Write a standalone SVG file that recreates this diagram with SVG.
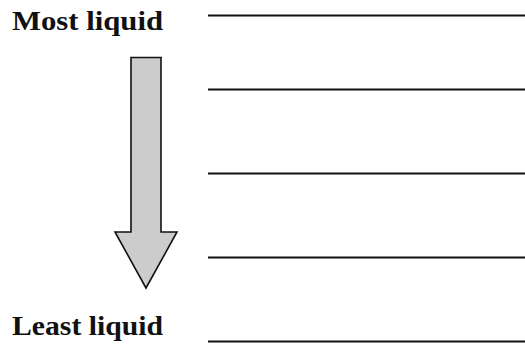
<svg xmlns="http://www.w3.org/2000/svg" width="525" height="348" viewBox="0 0 525 348">
<style>
.lbl{font-family:"Liberation Serif","Times New Roman",serif;font-size:28px;font-weight:bold;fill:#111}
.ln{stroke:#111;stroke-width:2.2}
</style>
<rect width="525" height="348" fill="#fff"/>
<g id="label-most"><text class="lbl" x="12" y="30" textLength="151" lengthAdjust="spacingAndGlyphs">Most liquid</text></g>
<g id="label-least"><text class="lbl" x="12" y="335" textLength="151" lengthAdjust="spacingAndGlyphs">Least liquid</text></g>
<g id="arrow"><path d="M131,57.5 H161 V232 H177 L146,288 L115,232 H131 Z" fill="#cccccc" stroke="#111" stroke-width="1.6" stroke-linejoin="miter"/></g>
<g id="connectors">
<line class="ln" x1="208" y1="15.5" x2="525" y2="15.5"/>
<line class="ln" x1="208" y1="89.5" x2="525" y2="89.5"/>
<line class="ln" x1="208" y1="173.5" x2="525" y2="173.5"/>
<line class="ln" x1="208" y1="257.5" x2="525" y2="257.5"/>
<line class="ln" x1="208" y1="341.5" x2="525" y2="341.5"/>
</g>
</svg>
